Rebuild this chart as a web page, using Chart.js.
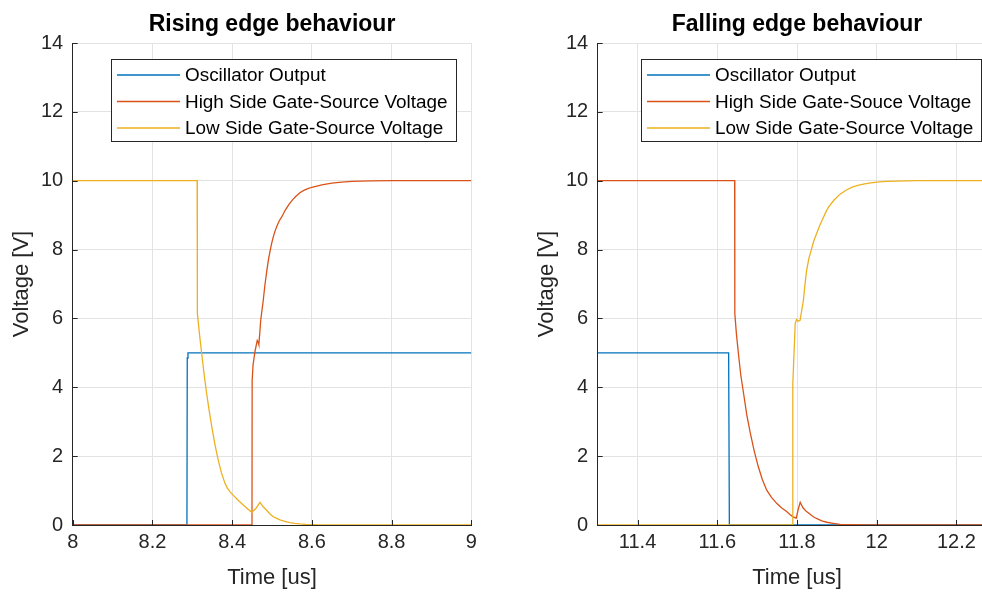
<!DOCTYPE html>
<html>
<head>
<meta charset="utf-8">
<script src="https://cdn.jsdelivr.net/npm/chart.js@4.4.1/dist/chart.umd.min.js"></script>
<style>
  html, body { margin: 0; padding: 0; background: #fff; }
  #wrap { position: relative; width: 982px; height: 592px; overflow: hidden; }
  #wrap canvas { position: absolute; top: 0; }
  #riseChart { left: 0; }
  #fallChart { left: 525px; }
</style>
</head>
<body>
<div id="wrap">
  <canvas id="riseChart" width="491" height="592"></canvas>
  <canvas id="fallChart" width="491" height="592"></canvas>
</div>
<script>
// ---------- data (time in us, voltage in V) ----------
const yTicks = [0, 2, 4, 6, 8, 10, 12, 14];

// rising edge
const riseTicks = [8, 8.2, 8.4, 8.6, 8.8, 9];
const riseOscT = [8, 8.2866, 8.2874, 8.2892, 9];
const riseOscV = [0, 0, 4.85, 5, 5];
const riseHighT = [8, 8.4498, 8.4502, 8.4525, 8.457, 8.461, 8.463, 8.4655, 8.467, 8.4695, 8.4716,
  8.478, 8.482, 8.487, 8.491, 8.495, 8.499, 8.503, 8.508, 8.513, 8.518, 8.524, 8.533, 8.543,
  8.552, 8.56, 8.57, 8.58, 8.59, 8.6, 8.625, 8.65, 8.675, 8.7, 8.75, 8.8, 9];
const riseHighV = [0, 0, 4.2, 4.65, 5.02, 5.25, 5.36, 5.3, 5.24, 5.6, 5.94,
  6.52, 6.95, 7.39, 7.7, 7.95, 8.17, 8.36, 8.55, 8.7, 8.83, 8.94, 9.14, 9.32,
  9.45, 9.55, 9.65, 9.72, 9.77, 9.81, 9.88, 9.93, 9.96, 9.98, 9.995, 10, 10];
const riseLowT = [8, 8.3122, 8.3128, 8.318, 8.3236, 8.33, 8.336, 8.342, 8.349, 8.357, 8.365, 8.373,
  8.382, 8.388, 8.395, 8.403, 8.415, 8.428, 8.438, 8.449, 8.4595, 8.47, 8.478, 8.487, 8.495,
  8.503, 8.512, 8.52, 8.53, 8.545, 8.557, 8.57, 8.585, 8.6, 8.62, 8.65, 9];
const riseLowV = [10, 10, 6.14, 5.55, 4.98, 4.35, 3.82, 3.35, 2.85, 2.33, 1.89, 1.52,
  1.21, 1.07, 0.96, 0.86, 0.72, 0.58, 0.48, 0.37, 0.48, 0.66, 0.53, 0.42, 0.32,
  0.24, 0.19, 0.15, 0.11, 0.07, 0.045, 0.03, 0.017, 0.01, 0.005, 0, 0];

// falling edge
const fallTicks = [11.4, 11.6, 11.8, 12, 12.2];
const fallOscT = [11.3, 11.6285, 11.6303, 12.3];
const fallOscV = [5, 5, 0, 0];
const fallHighT = [11.3, 11.6436, 11.644, 11.648, 11.653, 11.659, 11.666, 11.674, 11.683, 11.693,
  11.703, 11.713, 11.724, 11.736, 11.749, 11.761, 11.774, 11.783, 11.791, 11.798, 11.803, 11.808,
  11.815, 11.824, 11.833, 11.841, 11.849, 11.862, 11.875, 11.891, 11.908, 11.925, 11.94,
  11.97, 12.0, 12.3];
const fallHighV = [10, 10, 6.14, 5.55, 4.98, 4.35, 3.82, 3.2, 2.66, 2.13,
  1.69, 1.32, 1.01, 0.8, 0.63, 0.5, 0.39, 0.3, 0.23, 0.2, 0.45, 0.66,
  0.5, 0.39, 0.31, 0.24, 0.19, 0.12, 0.08, 0.05, 0.02, 0.012, 0.008,
  0.003, 0, 0];
const fallLowT = [11.3, 11.7891, 11.7895, 11.7955, 11.799, 11.803, 11.8076, 11.816, 11.82, 11.824,
  11.83, 11.836, 11.842, 11.849, 11.857, 11.865, 11.872, 11.879, 11.893, 11.908, 11.924, 11.94,
  11.955, 11.97, 11.985, 12.0, 12.025, 12.05, 12.1, 12.3];
const fallLowV = [0, 0, 4.1, 5.85, 5.97, 5.92, 5.94, 6.52, 6.98, 7.39,
  7.75, 8.0, 8.25, 8.46, 8.7, 8.9, 9.08, 9.23, 9.44, 9.61, 9.73, 9.82,
  9.87, 9.91, 9.94, 9.96, 9.98, 9.99, 10, 10];

const BLUE = "#0072BD", RED = "#D95319", YELLOW = "#EDB120";
const AXIS = "#262626";
const FONT = "'Liberation Sans', Arial, sans-serif";

// ---------- helpers ----------
const pts = (t, v) => t.map((x, i) => ({ x, y: v[i] }));

// legend drawn inside the axes, top-right like MATLAB
const insetLegend = {
  id: "insetLegend",
  afterDraw(chart) {
    const { ctx, chartArea } = chart;
    const items = chart.data.datasets;
    ctx.save();
    ctx.font = "18.9px " + FONT;
    const textW = Math.max(...items.map((d) => ctx.measureText(d.label).width));
    const w = Math.round(74 + textW + 8);
    const right = Math.round(chartArea.right - 15.5);
    const left = right - w;
    const top = Math.round(chartArea.top + 16.3);
    const h = 82;
    ctx.fillStyle = "#fff";
    ctx.fillRect(left, top, w, h);
    ctx.strokeStyle = AXIS;
    ctx.lineWidth = 1;
    ctx.strokeRect(left + 0.5, top + 0.5, w, h);
    items.forEach((d, i) => {
      const y = top + 16 + i * 26.5;
      ctx.strokeStyle = d.borderColor;
      ctx.lineWidth = 1.3;
      ctx.beginPath();
      ctx.moveTo(left + 6, y);
      ctx.lineTo(left + 69, y);
      ctx.stroke();
      ctx.fillStyle = "#000";
      ctx.textBaseline = "middle";
      ctx.fillText(d.label, left + 74, y + 1);
    });
    ctx.restore();
  },
};

// MATLAB style inward tick marks
const innerTicks = {
  id: "innerTicks",
  afterDatasetsDraw(chart) {
    const { ctx, chartArea, scales } = chart;
    ctx.save();
    ctx.strokeStyle = AXIS;
    ctx.lineWidth = 1;
    ctx.beginPath();
    scales.x.ticks.forEach((t) => {
      const px = Math.round(scales.x.getPixelForValue(t.value)) + 0.5;
      ctx.moveTo(px, chartArea.bottom);
      ctx.lineTo(px, chartArea.bottom - 5);
    });
    scales.y.ticks.forEach((t) => {
      const py = Math.round(scales.y.getPixelForValue(t.value)) + 0.5;
      ctx.moveTo(chartArea.left, py);
      ctx.lineTo(chartArea.left + 5, py);
    });
    ctx.stroke();
    ctx.restore();
  },
};

function makeChart(id, title, xMin, xMax, xTicks, series) {
  const datasets = series.map((s) => ({
    label: s.label,
    data: pts(s.t, s.v),
    borderColor: s.color,
    backgroundColor: s.color,
    borderWidth: 1.3,
    pointRadius: 0,
    tension: 0,
    fill: false,
    order: s.order,
  }));
  return new Chart(document.getElementById(id), {
    type: "line",
    data: { datasets },
    plugins: [innerTicks, insetLegend],
    options: {
      responsive: false,
      animation: false,
      parsing: false,
      layout: { padding: { top: 0, left: 0, right: 19.7, bottom: 0 } },
      scales: {
        x: {
          type: "linear",
          min: xMin,
          max: xMax,
          afterBuildTicks: (sc) => { sc.ticks = xTicks.map((v) => ({ value: v })); },
          afterFit: (sc) => {
            sc.height = 67;
            sc.paddingLeft = 0; sc.paddingRight = 0;
          },
          grid: { color: "#e3e3e3", drawTicks: false, lineWidth: 1 },
          border: { display: true, color: AXIS, width: 1 },
          ticks: {
            color: AXIS, padding: 5, maxRotation: 0, autoSkip: false,
            font: { family: FONT, size: 20 },
            callback: (v) => String(Math.round(v * 10) / 10),
          },
          title: {
            display: true, text: "Time [us]", color: AXIS,
            font: { family: FONT, size: 22 },
            padding: { top: 0, bottom: 0.8 },
          },
        },
        y: {
          type: "linear",
          min: 0,
          max: 14,
          afterBuildTicks: (sc) => { sc.ticks = yTicks.map((v) => ({ value: v })); },
          afterFit: (sc) => {
            sc.width = 72.7;
            sc.paddingTop = 0; sc.paddingBottom = 0;
          },
          grid: { color: "#e3e3e3", drawTicks: false, lineWidth: 1 },
          border: { display: true, color: AXIS, width: 1 },
          ticks: {
            color: AXIS, padding: 9.5, autoSkip: false,
            font: { family: FONT, size: 20 },
          },
          title: {
            display: true, text: "Voltage [V]", color: AXIS,
            font: { family: FONT, size: 22 },
            padding: { top: 8.8, bottom: 0 },
          },
        },
      },
      plugins: {
        legend: { display: false },
        tooltip: { enabled: false },
        title: {
          display: true, text: title, color: "#000", fullSize: false,
          font: { family: FONT, size: 23, weight: "bold" },
          padding: { top: 11, bottom: 4.4 },
        },
      },
    },
  });
}

makeChart("riseChart", "Rising edge behaviour", 8, 9, riseTicks, [
  { label: "Oscillator Output", t: riseOscT, v: riseOscV, color: BLUE, order: 3 },
  { label: "High Side Gate-Source Voltage", t: riseHighT, v: riseHighV, color: RED, order: 2 },
  { label: "Low Side Gate-Source Voltage", t: riseLowT, v: riseLowV, color: YELLOW, order: 1 },
]);

makeChart("fallChart", "Falling edge behaviour", 11.3, 12.3, fallTicks, [
  { label: "Oscillator Output", t: fallOscT, v: fallOscV, color: BLUE, order: 3 },
  { label: "High Side Gate-Souce Voltage", t: fallHighT, v: fallHighV, color: RED, order: 2 },
  { label: "Low Side Gate-Source Voltage", t: fallLowT, v: fallLowV, color: YELLOW, order: 1 },
]);
</script>
</body>
</html>
